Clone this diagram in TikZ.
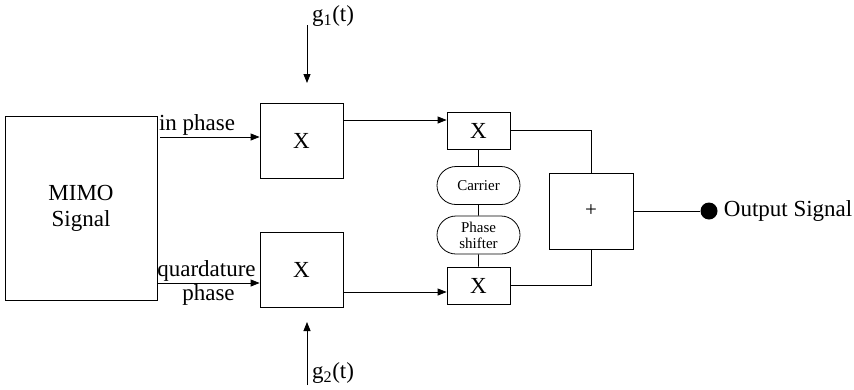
\documentclass[tikz,border=0pt]{standalone}
\usepackage{fontspec}
\setmainfont{Liberation Serif}
\usetikzlibrary{arrows.meta,shapes.misc}

\begin{document}
\begin{tikzpicture}[
  x=1pt,y=-1pt,
  block/.style={draw,rectangle,inner sep=0pt,line width=0.8pt,
    font=\fontsize{23}{26}\selectfont},
  osc/.style={draw,rounded rectangle,minimum width=83pt,minimum height=38pt,
    inner sep=0pt,line width=0.8pt,align=center,font=\fontsize{15}{16}\selectfont},
  signal/.style={-{Triangle[length=9pt,width=7pt]},line width=0.8pt},
  wire/.style={line width=0.8pt},
  lbl/.style={font=\fontsize{23}{24}\selectfont,inner sep=1pt}
]
  \useasboundingbox (0,0) rectangle (854,389);

  \node[block,minimum width=152pt,minimum height=184pt,align=center] (mimo) at (81,208) {MIMO\\Signal};
  \node[block,minimum width=83pt,minimum height=75pt] (mixA) at (301.5,140.5) {X};
  \node[block,minimum width=83pt,minimum height=75pt] (mixB) at (301.5,269.5) {X};
  \node[block,minimum width=63pt,minimum height=37pt] (modA) at (478.5,130.5) {X};
  \node[block,minimum width=63pt,minimum height=37pt] (modB) at (478.5,285.5) {X};
  \node[osc] (carrier) at (478.5,185.5) {Carrier};
  \node[osc] (shifter) at (478.5,235) {Phase\\shifter};
  \node[block,minimum width=84pt,minimum height=76pt,font=\fontsize{21}{22}\selectfont] (sum) at (591,211) {+};
  \node[circle,fill,minimum size=17pt,inner sep=0pt] (dot) at (709,211) {};
  \node[lbl,anchor=west] (outlbl) at ([xshift=5pt]dot.east) {Output Signal};

  \coordinate (ipin) at ([yshift=3.5pt]mixA.west);
  \coordinate (qin) at ([yshift=-13.5pt]mixB.west);
  \coordinate (ain) at ([yshift=10.5pt]modA.west);
  \coordinate (bin) at ([yshift=-6.5pt]modB.west);
  \coordinate (g1top) at (307,25);
  \coordinate (g1end) at (307,83);
  \coordinate (g2top) at (307,385);
  \coordinate (g2end) at (307,322);

  \node[lbl,anchor=west] (g1) at (311,16) {g\textsubscript{1}(t)};
  \node[lbl,anchor=west] (g2) at (311,373) {g\textsubscript{2}(t)};

  % inputs
  \draw[signal] ([xshift=3pt]mimo.east |- ipin) -- node[lbl,above,pos=0.37] {in phase} (ipin);
  \draw[signal] (mimo.east |- qin) -- node[lbl,above,pos=0.48] {quardature}
    node[lbl,below,pos=0.5] {phase} (qin);
  \draw[signal] (g1top) -- (g1end);
  \draw[signal] (g2top) -- (g2end);

  % to the modulators
  \draw[signal] (mixA.east |- ain) -- (ain);
  \draw[signal] (mixB.east |- bin) -- (bin);
  \draw[wire] (modA) -- (carrier) -- (shifter) -- (modB);

  % summing
  \draw[wire] (modA.east) -| (sum.north);
  \draw[wire] (modB.east) -| (sum.south);
  \draw[wire] (sum.east) -- (dot);
\end{tikzpicture}
\end{document}
